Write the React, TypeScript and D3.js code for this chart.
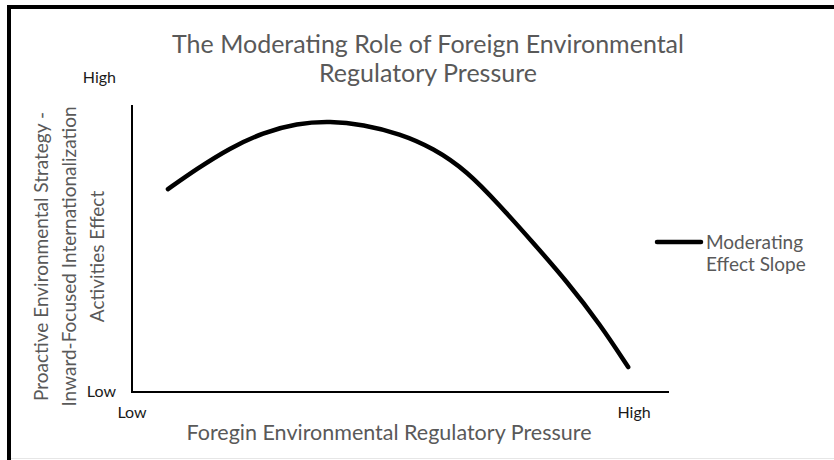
import React, { useEffect, useRef } from 'react';
import * as d3 from 'd3';

// values (both axes run 0..10, Low..High)
const pressure = [0.67, 1.21, 1.82, 2.44, 3.07, 3.69, 4.3, 4.99, 5.61, 6.24, 6.85, 7.47, 8.1, 8.72, 9.24];
const effect = [7.07, 7.78, 8.5, 9.04, 9.36, 9.44, 9.32, 9.0, 8.5, 7.7, 6.5, 5.2, 3.85, 2.35, 0.87];

const xTickLabels = ['Low', 'High'];
const xTickValues = [0, 9.35];
const yTickLabels = ['Low', 'High'];
const yTickValues = [0, 10.95];

const titleLines = ['The Moderating Role of Foreign Environmental', 'Regulatory Pressure'];
const yTitleLines = ['Proactive Environmental Strategy -', 'Inward-Focused Internationalization', 'Activities Effect'];
const xTitle = 'Foregin Environmental Regulatory Pressure';
const legendLines = ['Moderating', 'Effect Slope'];

const FONT = 'Lato, "Open Sans", sans-serif';
const GRAY = '#595959';

const App = () => {
  const ref = useRef<SVGSVGElement>(null);

  useEffect(() => {
    if (!ref.current) return;
    const svg = d3.select(ref.current);
    svg.selectAll('*').remove();

    const W = 834;
    const H = 460;
    // plot area
    const left = 132;
    const right = 669;
    const top = 105;
    const bottom = 392;

    const x = d3.scaleLinear().domain([0, 10]).range([left, right]);
    const y = d3.scaleLinear().domain([0, 10]).range([bottom, top]);

    svg.append('rect').attr('width', W).attr('height', H).attr('fill', '#fff');

    // frame pieces visible in the crop
    svg.append('rect').attr('x', 7).attr('y', 5).attr('width', W - 7).attr('height', 4).attr('fill', '#000');
    svg.append('rect').attr('x', 7).attr('y', 5).attr('width', 4).attr('height', H - 5).attr('fill', '#000');
    svg.append('line').attr('x1', 11).attr('x2', W).attr('y1', 458.5).attr('y2', 458.5)
      .attr('stroke', '#e6e6e6').attr('stroke-width', 1);

    // title
    svg.append('text')
      .attr('x', 428).attr('y', 53)
      .attr('text-anchor', 'middle')
      .style('font-family', FONT).style('font-size', '25px').attr('fill', GRAY)
      .selectAll('tspan').data(titleLines).join('tspan')
      .attr('x', 428).attr('dy', (d, i) => (i === 0 ? 0 : 29))
      .text((d) => d);

    // axes lines
    svg.append('line').attr('x1', x(0)).attr('x2', x(0)).attr('y1', y(10)).attr('y2', y(0))
      .attr('stroke', '#000').attr('stroke-width', 2);
    svg.append('line').attr('x1', x(0) - 1).attr('x2', x(10)).attr('y1', y(0)).attr('y2', y(0))
      .attr('stroke', '#000').attr('stroke-width', 2);

    // tick labels
    svg.selectAll('.xtick').data(xTickLabels).join('text')
      .attr('class', 'xtick')
      .attr('x', (d, i) => x(xTickValues[i]))
      .attr('y', 418)
      .attr('text-anchor', 'middle')
      .style('font-family', FONT).style('font-size', '16px').attr('fill', '#1a1a1a')
      .text((d) => d);

    svg.selectAll('.ytick').data(yTickLabels).join('text')
      .attr('class', 'ytick')
      .attr('x', 116)
      .attr('y', (d, i) => y(yTickValues[i]) + 5)
      .attr('text-anchor', 'end')
      .style('font-family', FONT).style('font-size', '16px').attr('fill', '#1a1a1a')
      .text((d) => d);

    // axis titles
    svg.append('text')
      .attr('x', 389).attr('y', 440)
      .attr('text-anchor', 'middle')
      .style('font-family', FONT).style('font-size', '21.5px').attr('fill', GRAY)
      .text(xTitle);

    const yt = svg.append('g').attr('transform', `translate(48,${(top + bottom) / 2 + 8}) rotate(-90)`);
    yt.selectAll('text').data(yTitleLines).join('text')
      .attr('x', 0)
      .attr('y', (d, i) => i * 28)
      .attr('text-anchor', 'middle')
      .style('font-family', FONT).style('font-size', '19px').attr('fill', GRAY)
      .text((d) => d);

    // curve
    const pts: [number, number][] = pressure.map((p, i) => [p, effect[i]]);
    const line = d3.line<[number, number]>()
      .x((d) => x(d[0]))
      .y((d) => y(d[1]))
      .curve(d3.curveBasis);
    svg.append('path')
      .attr('d', line(pts))
      .attr('fill', 'none')
      .attr('stroke', '#000')
      .attr('stroke-width', 4.5)
      .attr('stroke-linecap', 'round');

    // legend
    svg.append('line').attr('x1', 657).attr('x2', 701).attr('y1', 242).attr('y2', 242)
      .attr('stroke', '#000').attr('stroke-width', 4.5).attr('stroke-linecap', 'round');
    svg.append('text')
      .attr('x', 706).attr('y', 249)
      .style('font-family', FONT).style('font-size', '19px').attr('fill', GRAY)
      .selectAll('tspan').data(legendLines).join('tspan')
      .attr('x', 706).attr('dy', (d, i) => (i === 0 ? 0 : 22))
      .text((d) => d);
  }, []);

  return (
    <svg
      ref={ref}
      width={834}
      height={460}
      style={{ position: 'absolute', left: 0, top: 0, display: 'block' }}
    />
  );
};

export default App;
